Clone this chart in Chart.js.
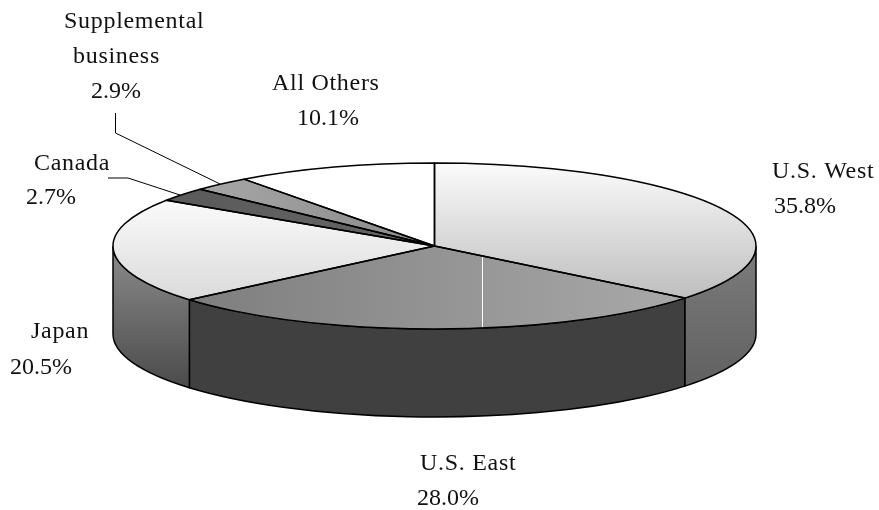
<!DOCTYPE html>
<html>
<head>
<meta charset="utf-8">
<title>Revenue share</title>
<script src="https://cdn.jsdelivr.net/npm/chart.js@4/dist/chart.umd.min.js"></script>
<style>
  html, body { margin: 0; padding: 0; background: #fff; overflow: hidden; }
  #wrap { width: 879px; height: 510px; }
</style>
</head>
<body>
<div id="wrap"><canvas id="pie" width="879" height="510"></canvas></div>
<script>
const categories = ['U.S. West', 'U.S. East', 'Japan', 'Canada', 'Supplemental business', 'All Others'];
const shares = [35.8, 28.0, 20.5, 2.7, 2.9, 10.1];

// pie geometry on the page
const RX = 321.5;
const RY = 83;
const DEPTH = 88;
const SQUASH = RY / RX;

// [x, baseline] of each text line, grouped per category
const labelLines = [
  [['U.S. West', 772, 178], ['%', 774, 213]],
  [['U.S. East', 420, 470], ['%', 417, 505]],
  [['Japan', 31, 338], ['%', 10, 374]],
  [['Canada', 34, 170], ['%', 26, 204]],
  [['Supplemental', 64, 28], ['business', 73, 63], ['%', 91, 98]],
  [['All Others', 272, 90], ['%', 297, 125]]
];
const leaders = [
  [[108, 178], [128, 178], [180, 195]],
  [[115.5, 113], [115.5, 133], [220, 184]]
];

function centerOf(chart) {
  const a = chart.chartArea;
  return { x: (a.left + a.right) / 2, y: (a.top + a.bottom) / 2 };
}

// the top face is painted under a vertical squash, so page y has to be stretched back
function vGrad(chart, y0, y1, c0, c1) {
  const c = centerOf(chart);
  const g = chart.ctx.createLinearGradient(0, c.y + (y0 - c.y) / SQUASH, 0, c.y + (y1 - c.y) / SQUASH);
  g.addColorStop(0, c0);
  g.addColorStop(1, c1);
  return g;
}

function hGrad(chart, x0, x1, c0, c1) {
  const g = chart.ctx.createLinearGradient(x0, 0, x1, 0);
  g.addColorStop(0, c0);
  g.addColorStop(1, c1);
  return g;
}

function topFill(context) {
  const chart = context.chart;
  if (!chart.chartArea) return '#ccc';
  switch (context.dataIndex) {
    case 0: return vGrad(chart, 163, 300, '#fbfbfb', '#bdbdbd');
    case 1: return hGrad(chart, 190, 684, '#7e7e7e', '#a9a9a9');
    case 2: return vGrad(chart, 195, 300, '#fcfcfc', '#dadada');
    case 3: return hGrad(chart, 170, 430, '#5a5a5a', '#666666');
    case 4: return hGrad(chart, 205, 430, '#a6a6a6', '#8a8a8a');
    default: return '#ffffff';
  }
}

function wallFill(ctx, index) {
  if (index === 1) return '#404040';
  const g = ctx.createLinearGradient(0, 245, 0, 400);
  if (index === 0) {
    g.addColorStop(0, '#7c7c7c');
    g.addColorStop(1, '#5e5e5e');
  } else {
    g.addColorStop(0, '#8c8c8c');
    g.addColorStop(1, '#454545');
  }
  return g;
}

const pie3d = {
  id: 'pie3d',
  beforeDatasetsDraw(chart) {
    const ctx = chart.ctx;
    const arcs = chart.getDatasetMeta(0).data;
    ctx.save();
    ctx.lineWidth = 1.5;
    ctx.strokeStyle = '#000';
    arcs.forEach((arc, i) => {
      const a0 = Math.max(arc.startAngle, 0);
      const a1 = Math.min(arc.endAngle, Math.PI);
      if (a1 <= a0) return;
      ctx.beginPath();
      ctx.ellipse(arc.x, arc.y, RX, RY, 0, a0, a1);
      ctx.ellipse(arc.x, arc.y + DEPTH, RX, RY, 0, a1, a0, true);
      ctx.closePath();
      ctx.fillStyle = wallFill(ctx, i);
      ctx.fill();
      ctx.stroke();
    });
    ctx.restore();

    // squash only while Chart.js paints the arcs
    const c = centerOf(chart);
    ctx.save();
    ctx.translate(c.x, c.y);
    ctx.scale(1, SQUASH);
    ctx.translate(-c.x, -c.y);
  },
  afterDatasetsDraw(chart) {
    const ctx = chart.ctx;
    ctx.restore();
    const arcs = chart.getDatasetMeta(0).data;

    // white streak on the U.S. East face
    const east = arcs[1];
    ctx.save();
    ctx.beginPath();
    ctx.moveTo(east.x, east.y);
    ctx.ellipse(east.x, east.y, RX, RY, 0, east.startAngle, east.endAngle);
    ctx.closePath();
    ctx.clip();
    ctx.fillStyle = '#fff';
    ctx.fillRect(482, 250, 1, 85);
    ctx.restore();

    // outlines at an even width
    ctx.save();
    ctx.strokeStyle = '#000';
    ctx.lineWidth = 1.5;
    ctx.lineJoin = 'round';
    arcs.forEach(arc => {
      ctx.beginPath();
      ctx.moveTo(arc.x, arc.y);
      ctx.ellipse(arc.x, arc.y, RX, RY, 0, arc.startAngle, arc.endAngle);
      ctx.closePath();
      ctx.stroke();
    });

    ctx.lineWidth = 1;
    leaders.forEach(line => {
      ctx.beginPath();
      line.forEach((p, i) => (i ? ctx.lineTo(p[0], p[1]) : ctx.moveTo(p[0], p[1])));
      ctx.stroke();
    });

    ctx.fillStyle = '#111';
    ctx.font = '24px "Liberation Serif"';
    ctx.textAlign = 'left';
    ctx.textBaseline = 'alphabetic';
    labelLines.forEach((lines, i) => {
      lines.forEach(([text, x, y]) => {
        const isPct = text === '%';
        ctx.letterSpacing = isPct ? '0px' : '0.7px';
        ctx.fillText(isPct ? shares[i].toFixed(1) + '%' : text, x, y);
      });
    });
    ctx.restore();
  }
};

new Chart(document.getElementById('pie').getContext('2d'), {
  type: 'pie',
  data: {
    labels: categories,
    datasets: [{
      data: shares,
      backgroundColor: topFill,
      borderWidth: 0,
      clip: false
    }]
  },
  options: {
    responsive: false,
    animation: false,
    radius: RX,
    layout: { padding: { left: 0, right: 10, top: 0, bottom: 18 } },
    plugins: {
      legend: { display: false },
      tooltip: { enabled: false }
    }
  },
  plugins: [pie3d]
});
</script>
</body>
</html>
